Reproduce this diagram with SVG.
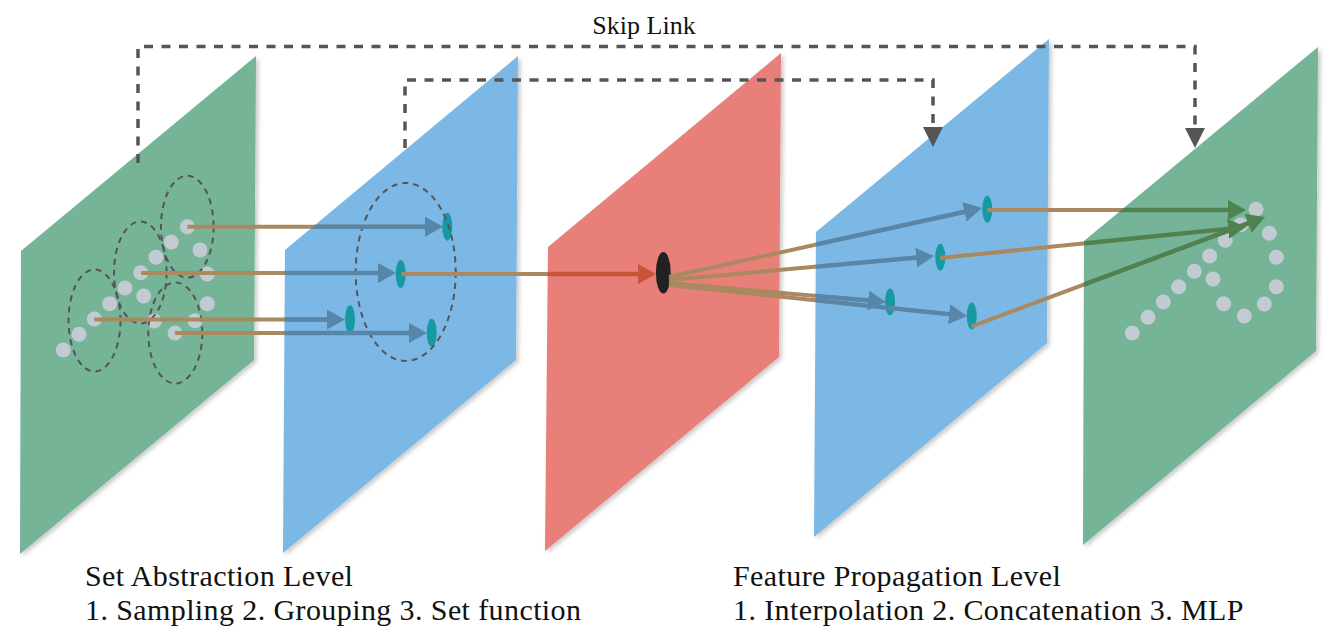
<svg xmlns="http://www.w3.org/2000/svg" width="1340" height="644" viewBox="0 0 1340 644">
<style>
.panel{filter:url(#shadow)}
.green{fill:#74B496}
.blue{fill:#7BB8E6}
.red{fill:#E97F79}
.pt{fill:#C3CBD2}
.teal{fill:#1699A2}
.grp{fill:none;stroke:#555;stroke-width:2;stroke-dasharray:6 5}
.brown line{stroke:#AA8860;stroke-width:4;fill:none}
.tb line{stroke:#5886A8;stroke-width:4.4;fill:none;marker-end:url(#ahBlue)}
.tr line{stroke:#C8553A;stroke-width:4.4;fill:none;marker-end:url(#ahRed)}
.tg line{stroke:#508250;stroke-width:4.4;fill:none;marker-end:url(#ahGreen)}
.skip{fill:none;stroke:#555;stroke-width:3.5;stroke-dasharray:9 8.5;marker-end:url(#ahGray)}
.lbl{font-family:"Liberation Serif","Times New Roman",serif;fill:#111}
.big{font-size:30px;letter-spacing:0.4px}
</style>
<defs>
<filter id="shadow" x="-10%" y="-10%" width="120%" height="120%">
<feDropShadow dx="2.5" dy="2" stdDeviation="2" flood-color="#000" flood-opacity="0.22"/>
</filter>
<marker id="ahBlue" viewBox="0 0 18 20" markerWidth="18" markerHeight="20" refX="4" refY="10" orient="auto" markerUnits="userSpaceOnUse"><path d="M0,0 L18,10 L0,20 z" fill="#5886A8"/></marker>
<marker id="ahRed" viewBox="0 0 18 20" markerWidth="18" markerHeight="20" refX="4" refY="10" orient="auto" markerUnits="userSpaceOnUse"><path d="M0,0 L18,10 L0,20 z" fill="#C8553A"/></marker>
<marker id="ahGreen" viewBox="0 0 18 20" markerWidth="18" markerHeight="20" refX="4" refY="10" orient="auto" markerUnits="userSpaceOnUse"><path d="M0,0 L18,10 L0,20 z" fill="#508250"/></marker>
<marker id="ahGray" viewBox="0 0 20 20" markerWidth="20" markerHeight="20" refX="2" refY="10" orient="auto" markerUnits="userSpaceOnUse"><path d="M0,0 L20,10 L0,20 z" fill="#555"/></marker>
<clipPath id="clipP2"><polygon points="285,250 518,56 516,360 283,553"/></clipPath>
<clipPath id="clipP3"><polygon points="548,247 781,53 779,357 545,551"/></clipPath>
<clipPath id="clipP4"><polygon points="816,232 1049,39 1047,343 814,537"/></clipPath>
<clipPath id="clipP5"><polygon points="1084,241 1318,47 1316,351 1083,545"/></clipPath>
</defs>
<rect width="1340" height="644" fill="#fff"/>

<g id="panel1">
<polygon class="panel green" points="21,251 256,56 254,360 20,554"/>
<g class="pt">
<circle cx="187.3" cy="226.7" r="7.5"/><circle cx="171.3" cy="242" r="7.5"/><circle cx="200" cy="250" r="7.5"/>
<circle cx="156" cy="257.3" r="7.5"/><circle cx="207.3" cy="274" r="7.5"/><circle cx="140.7" cy="272.7" r="7.5"/>
<circle cx="125" cy="288" r="7.5"/><circle cx="143.7" cy="296" r="7.5"/><circle cx="207.3" cy="303.7" r="7.5"/>
<circle cx="109.7" cy="303.7" r="7.5"/><circle cx="94.3" cy="319" r="7.5"/><circle cx="154.3" cy="321" r="7.5"/>
<circle cx="195" cy="320.7" r="7.5"/><circle cx="79" cy="334.3" r="7.5"/><circle cx="175" cy="333" r="7.5"/>
<circle cx="63.3" cy="350" r="7.5"/>
</g>
<ellipse class="grp" cx="187.3" cy="226.7" rx="26.3" ry="51"/>
<ellipse class="grp" cx="140.3" cy="272.5" rx="26.3" ry="51"/>
<ellipse class="grp" cx="94.5" cy="320.5" rx="26" ry="51"/>
<ellipse class="grp" cx="175.3" cy="333" rx="27" ry="50.5"/>
</g>

<g id="panel2">
<polygon class="panel blue" points="285,250 518,56 516,360 283,553"/>
<g class="teal">
<ellipse cx="447.3" cy="226.7" rx="5" ry="14"/>
<ellipse cx="400.7" cy="274" rx="5" ry="14"/>
<ellipse cx="350" cy="319.3" rx="5" ry="14"/>
<ellipse cx="431.7" cy="332.7" rx="5" ry="14"/>
</g>
<ellipse class="grp" cx="405.7" cy="272" rx="50" ry="89"/>
</g>

<g id="panel3">
<polygon class="panel red" points="548,247 781,53 779,357 545,551"/>
<ellipse cx="663.3" cy="272.7" rx="7.4" ry="20.8" fill="#222"/>
</g>

<g id="panel4">
<polygon class="panel blue" points="816,232 1049,39 1047,343 814,537"/>
<g class="teal">
<ellipse cx="987.3" cy="209.3" rx="5" ry="13.5"/>
<ellipse cx="940.3" cy="257.3" rx="5" ry="13.5"/>
<ellipse cx="890" cy="302" rx="5" ry="13.5"/>
<ellipse cx="971.7" cy="316" rx="5" ry="13.5"/>
</g>
</g>

<g id="panel5">
<polygon class="panel green" points="1084,241 1318,47 1316,351 1083,545"/>
<g class="pt">
<circle cx="1256" cy="209.3" r="7.5"/><circle cx="1240.7" cy="224.7" r="7.5"/><circle cx="1269.3" cy="233.3" r="7.5"/>
<circle cx="1225.3" cy="240.3" r="7.5"/><circle cx="1276.3" cy="257.3" r="7.5"/><circle cx="1209.7" cy="256" r="7.5"/>
<circle cx="1194.3" cy="271.3" r="7.5"/><circle cx="1213" cy="279" r="7.5"/><circle cx="1276.3" cy="286.7" r="7.5"/>
<circle cx="1178.7" cy="286.7" r="7.5"/><circle cx="1163.3" cy="302" r="7.5"/><circle cx="1223.7" cy="303.7" r="7.5"/>
<circle cx="1264.3" cy="304" r="7.5"/><circle cx="1148" cy="317.3" r="7.5"/><circle cx="1244.3" cy="316" r="7.5"/>
<circle cx="1132.3" cy="333" r="7.5"/>
</g>
</g>

<g id="connectors">
<g class="brown">
<line x1="187.3" y1="226.7" x2="429" y2="226.7"/>
<line x1="141" y1="273" x2="382" y2="273"/>
<line x1="94.3" y1="319.5" x2="331" y2="319.5"/>
<line x1="175" y1="333" x2="413" y2="333"/>
<line x1="401.5" y1="274" x2="642" y2="274"/>
<line x1="669" y1="277" x2="968.3" y2="211"/>
<line x1="669" y1="280" x2="920.1" y2="257.3"/>
<line x1="669" y1="283" x2="872.1" y2="300.8"/>
<line x1="669" y1="285" x2="953.1" y2="314.6"/>
<line x1="987.3" y1="210" x2="1232" y2="210"/>
<line x1="940.3" y1="258" x2="1232.1" y2="228.4"/>
<line x1="971.7" y1="326.5" x2="1251.9" y2="221.9"/>
</g>
<g class="tb" clip-path="url(#clipP2)">
<line x1="187.3" y1="226.7" x2="429" y2="226.7"/>
<line x1="141" y1="273" x2="382" y2="273"/>
<line x1="94.3" y1="319.5" x2="331" y2="319.5"/>
<line x1="175" y1="333" x2="413" y2="333"/>
</g>
<g class="tr" clip-path="url(#clipP3)">
<line x1="401.5" y1="274" x2="642" y2="274"/>
</g>
<g class="tb" clip-path="url(#clipP4)">
<line x1="669" y1="277" x2="968.3" y2="211"/>
<line x1="669" y1="280" x2="920.1" y2="257.3"/>
<line x1="669" y1="283" x2="872.1" y2="300.8"/>
<line x1="669" y1="285" x2="953.1" y2="314.6"/>
</g>
<g class="tg" clip-path="url(#clipP5)">
<line x1="987.3" y1="210" x2="1232" y2="210"/>
<line x1="940.3" y1="258" x2="1232.1" y2="228.4"/>
<line x1="971.7" y1="326.5" x2="1251.9" y2="221.9"/>
</g>
<polyline class="skip" points="138,163 138,46.5 1195,46.5 1195,130"/>
<polyline class="skip" points="405,148 405,80 933,80 933,129"/>
</g>

<g id="labels">
<text class="lbl" x="644" y="34" font-size="26" text-anchor="middle">Skip Link</text>
<text class="lbl big" x="85" y="586">Set Abstraction Level</text>
<text class="lbl big" x="85" y="620">1. Sampling 2. Grouping 3. Set function</text>
<text class="lbl big" x="733" y="586">Feature Propagation Level</text>
<text class="lbl big" x="733" y="620">1. Interpolation 2. Concatenation 3. MLP</text>
</g>
</svg>
